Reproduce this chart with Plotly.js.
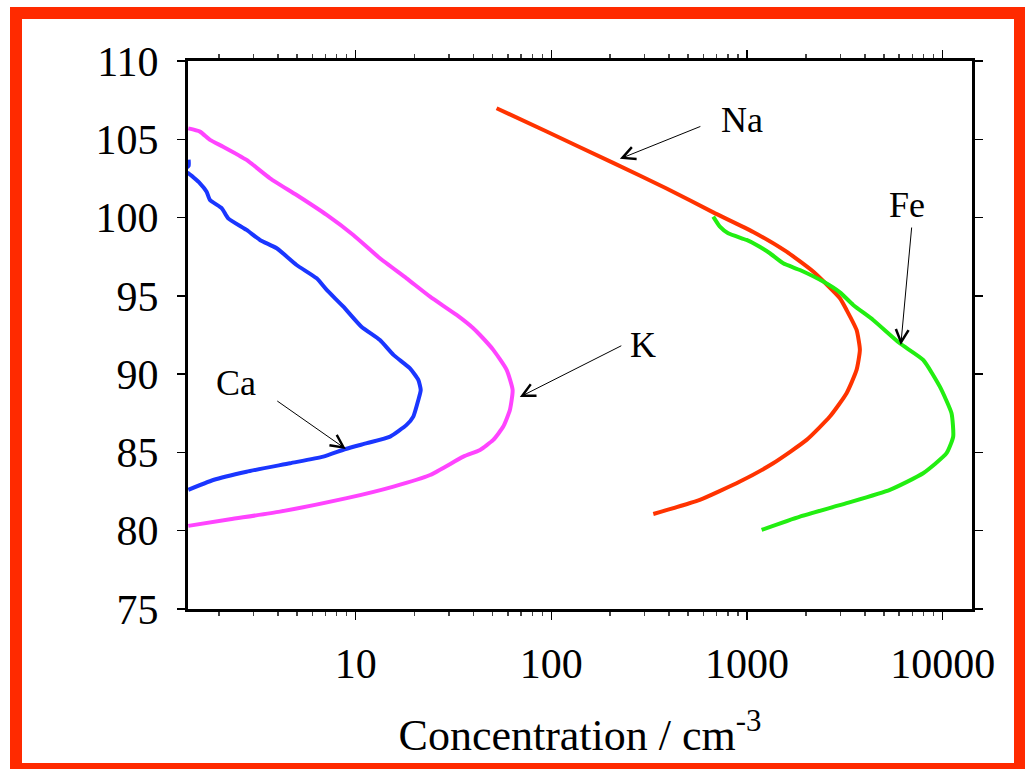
<!DOCTYPE html>
<html>
<head>
<meta charset="utf-8">
<script src="https://cdn.plot.ly/plotly-3.0.1.min.js"></script>
<style>
  html, body { margin: 0; padding: 0; background: #ffffff; overflow: hidden; }
  #chart { position: absolute; left: 0; top: 0; width: 1025px; height: 769px; }
  #frame { position: absolute; left: 10px; top: 7px; width: 992px; height: 744px;
           border: 12px solid #ff2a00; pointer-events: none; }
</style>
</head>
<body>
<div id="chart"></div>
<div id="frame"></div>
<script>
// ---- data (concentration in cm^-3, altitude in km) ----
var caConc = [1.40, 1.40, 1.30, 1.395, 1.60, 1.73, 1.80, 2.07, 2.23, 2.77, 3.24, 3.95, 4.99, 6.32, 7.11, 8.65, 10.7, 13.3, 15.6, 18.9, 20.9, 21.5, 20.9, 19.7, 18.2, 15.0, 11.4, 8.89, 6.83, 4.62, 2.77, 1.87, 1.395];
var caAlt  = [103.7, 103.3, 103.0, 102.83, 102.19, 101.65, 101.12, 100.59, 99.95, 99.21, 98.57, 98.04, 96.97, 96.12, 95.38, 94.31, 93.03, 92.18, 91.23, 90.38, 89.63, 88.99, 88.35, 87.29, 86.76, 86.01, 85.59, 85.22, 84.73, 84.31, 83.77, 83.24, 82.61];

var kConc = [1.395, 1.60, 1.80, 2.10, 2.77, 3.65, 4.99, 7.11, 9.72, 13.3, 18.2, 24.0, 32.8, 39.9, 43.2, 50.5, 59.1, 63.4, 61.4, 56.8, 50.5, 43.2, 35.5, 24.0, 15.6, 9.0, 4.10, 2.28, 1.395];
var kAlt  = [105.70, 105.49, 104.96, 104.53, 103.68, 102.51, 101.44, 100.17, 98.89, 97.40, 96.12, 94.95, 93.78, 92.93, 92.50, 91.55, 90.27, 88.99, 87.71, 86.65, 85.80, 85.16, 84.73, 83.56, 82.82, 82.08, 81.22, 80.73, 80.31];

var naConc = [52.5, 94.6, 207, 388, 672, 1076, 1593, 2179, 2985, 3228, 3631, 3776, 3631, 3228, 2652, 2017, 1361, 920, 574, 332];
var naAlt  = [106.98, 105.50, 103.49, 101.86, 100.33, 99.08, 97.82, 96.55, 94.85, 94.10, 92.82, 91.55, 90.27, 88.78, 87.29, 85.80, 84.31, 83.14, 81.97, 81.07];

var feConc = [672, 727, 801, 995, 1119, 1309, 1531, 1864, 2451, 2985, 3489, 4413, 6040, 7947, 9677, 11100, 11320, 10470, 7947, 5373, 3228, 1864, 1188];
var feAlt  = [100.06, 99.42, 99.00, 98.57, 98.25, 97.72, 97.08, 96.65, 95.91, 95.22, 94.42, 93.46, 91.97, 90.91, 89.20, 87.50, 86.01, 84.95, 83.67, 82.61, 81.76, 80.90, 80.05];

// tick labels
var xTickVals = [10, 100, 1000, 10000];
var xTickText = ['10', '100', '1000', '10000'];

// label annotations: name, label position, arrow head position
var labelNames = ['Na', 'Fe', 'K', 'Ca'];
var labelConc  = [942, 6560, 294, 2.44];
var labelAlt   = [106.23, 100.8, 91.86, 89.44];
var arrowConc  = [224, 6110, 69, 8.9];
var arrowAlt   = [103.75, 91.86, 88.54, 85.22];
var arrowDx    = [82, 11, 103, -70];
var arrowDy    = [-33, -119, -52, -49];

var serif = 'Liberation Serif, Times New Roman, Times, serif';

function curve(x, y, color) {
  return { x: x, y: y, type: 'scatter', mode: 'lines',
           line: { color: color, width: 4, shape: 'spline', smoothing: 0.5 },
           hoverinfo: 'skip', showlegend: false };
}

var traces = [
  curve(kConc, kAlt, '#ff44ff'),
  curve(caConc, caAlt, '#1a36ff'),
  curve(naConc, naAlt, '#ff3300'),
  curve(feConc, feAlt, '#22ee11')
];

// minor ticks at 2..9 of each decade
var minorVals = [];
for (var d = 0; d <= 4; d++) {
  for (var m = 2; m <= 9; m++) minorVals.push(m * Math.pow(10, d));
}

var annotations = [];
for (var i = 0; i < labelNames.length; i++) {
  annotations.push({
    x: Math.log10(labelConc[i]), y: labelAlt[i], xref: 'x', yref: 'y',
    text: labelNames[i], showarrow: false,
    font: { family: serif, size: 36, color: '#000000' },
    xanchor: 'center', yanchor: 'middle'
  });
  annotations.push({
    x: Math.log10(arrowConc[i]), y: arrowAlt[i], xref: 'x', yref: 'y',
    text: '', showarrow: true, arrowhead: 5, arrowsize: 2.5, arrowwidth: 1,
    arrowcolor: '#000000', ax: arrowDx[i], ay: arrowDy[i]
  });
}

var layout = {
  width: 1025, height: 769,
  margin: { l: 188, r: 53, t: 61, b: 160, pad: 0 },
  paper_bgcolor: '#ffffff', plot_bgcolor: '#ffffff',
  font: { family: serif, color: '#000000' },
  showlegend: false,
  xaxis: {
    type: 'log', range: [0.143, 4.15],
    tickmode: 'array', tickvals: xTickVals, ticktext: xTickText,
    ticks: 'outside', ticklen: 8, tickwidth: 1.5, tickcolor: '#000000',
    minor: { tickmode: 'array', tickvals: minorVals, ticks: 'outside', ticklen: 4, tickwidth: 1.5, tickcolor: '#444444', showgrid: false },
    showline: true, linewidth: 3, linecolor: '#000000', mirror: 'ticks',
    showgrid: false, zeroline: false,
    tickfont: { family: serif, size: 42, color: '#000000' },
    ticklabelstandoff: 8,
    title: { text: 'Concentration / cm<sup>-3</sup>', font: { family: serif, size: 44, color: '#000000' }, standoff: 33 }
  },
  yaxis: {
    range: [75, 110], tickmode: 'linear', tick0: 75, dtick: 5,
    ticks: 'outside', ticklen: 8, tickwidth: 1.5, tickcolor: '#000000',
    showline: true, linewidth: 3, linecolor: '#000000', mirror: 'ticks',
    showgrid: false, zeroline: false,
    tickfont: { family: serif, size: 42, color: '#000000' },
    ticklabelstandoff: 10
  },
  annotations: annotations
};

Plotly.newPlot('chart', traces, layout, { staticPlot: true, displayModeBar: false });
</script>
</body>
</html>
